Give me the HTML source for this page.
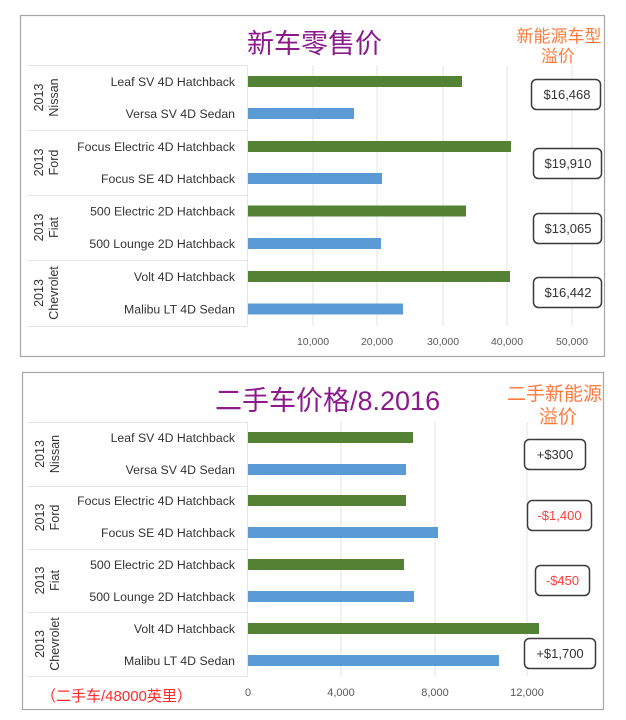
<!DOCTYPE html>
<html><head><meta charset="utf-8"><style>
html,body{margin:0;padding:0;background:#fff;}
svg{display:block;}
.lab{font-family:"Liberation Sans","Noto Sans CJK SC",sans-serif;font-size:12.3px;fill:#333;text-anchor:end;}
.grp{font-family:"Liberation Sans",sans-serif;font-size:12.5px;fill:#333;text-anchor:middle;}
.tick{font-family:"Liberation Sans",sans-serif;font-size:10.5px;fill:#595959;text-anchor:middle;}
.tick2{font-family:"Liberation Sans",sans-serif;font-size:11px;fill:#595959;text-anchor:middle;}
.box{font-family:"Liberation Sans",sans-serif;font-size:13px;fill:#333;text-anchor:middle;}
.boxr{font-family:"Liberation Sans",sans-serif;font-size:13px;fill:#ff3b3b;text-anchor:middle;}
.cn{font-family:"Liberation Sans","Noto Sans CJK SC",sans-serif;}
</style></head><body>
<svg width="626" height="720" viewBox="0 0 626 720" xmlns="http://www.w3.org/2000/svg">
<rect width="626" height="720" fill="#fff"/>
<!-- TOP PANEL -->
<rect x="20.5" y="15.5" width="584" height="341" fill="#fff" stroke="#a6a6a6" stroke-width="1.2"/>
<g stroke="#e3e3e3" stroke-width="1">
<line x1="313" y1="65" x2="313" y2="326"/>
<line x1="377" y1="65" x2="377" y2="326"/>
<line x1="443" y1="65" x2="443" y2="326"/>
<line x1="507" y1="65" x2="507" y2="326"/>
<line x1="572" y1="65" x2="572" y2="326"/>
</g>
<g stroke="#e6e6e6" stroke-width="1">
<line x1="27" y1="65.5" x2="247" y2="65.5"/>
<line x1="27" y1="130.5" x2="247" y2="130.5"/>
<line x1="27" y1="195.5" x2="247" y2="195.5"/>
<line x1="27" y1="260.5" x2="247" y2="260.5"/>
<line x1="27" y1="326.5" x2="247" y2="326.5"/>
<line x1="247.5" y1="65" x2="247.5" y2="326"/>
</g>
<text x="247" y="53" class="cn" font-size="27" fill="#8b1a8b">新车零售价</text>
<text x="559" y="42" class="cn" font-size="17" fill="#ff7a3d" text-anchor="middle">新能源车型</text>
<text x="558" y="62" class="cn" font-size="17" fill="#ff7a3d" text-anchor="middle">溢价</text>
<rect x="248" y="76" width="214" height="11" fill="#548235"/>
<rect x="248" y="108" width="106" height="11" fill="#5b9bd5"/>
<rect x="248" y="141" width="263" height="11" fill="#548235"/>
<rect x="248" y="173" width="134" height="11" fill="#5b9bd5"/>
<rect x="248" y="205.5" width="218" height="11" fill="#548235"/>
<rect x="248" y="238" width="133" height="11" fill="#5b9bd5"/>
<rect x="248" y="271" width="262" height="11" fill="#548235"/>
<rect x="248" y="303.5" width="155" height="11" fill="#5b9bd5"/>
<text x="235" y="86" class="lab">Leaf SV 4D Hatchback</text>
<text x="235" y="118" class="lab">Versa SV 4D Sedan</text>
<text x="235" y="151" class="lab">Focus Electric 4D Hatchback</text>
<text x="235" y="183" class="lab">Focus SE 4D Hatchback</text>
<text x="235" y="215.5" class="lab">500 Electric 2D Hatchback</text>
<text x="235" y="248" class="lab">500 Lounge 2D Hatchback</text>
<text x="235" y="281" class="lab">Volt  4D Hatchback</text>
<text x="235" y="313.5" class="lab">Malibu LT 4D Sedan</text>
<g class="grp">
<text transform="translate(43,97.5) rotate(-90)">2013</text>
<text transform="translate(58,97.5) rotate(-90)">Nissan</text>
<text transform="translate(43,162.5) rotate(-90)">2013</text>
<text transform="translate(58,162.5) rotate(-90)">Ford</text>
<text transform="translate(43,227.5) rotate(-90)">2013</text>
<text transform="translate(58,227.5) rotate(-90)">Fiat</text>
<text transform="translate(43,293) rotate(-90)">2013</text>
<text transform="translate(58,293) rotate(-90)">Chevrolet</text>
</g>
<g class="tick">
<text x="313" y="345">10,000</text>
<text x="377" y="345">20,000</text>
<text x="443" y="345">30,000</text>
<text x="507" y="345">40,000</text>
<text x="572" y="345">50,000</text>
</g>
<g fill="#fff" stroke="#3a3a3a" stroke-width="1.5">
<rect x="531.5" y="79.5" width="69" height="30" rx="5"/>
<rect x="533.5" y="148.5" width="68" height="30" rx="5"/>
<rect x="533.5" y="213.5" width="68" height="30" rx="5"/>
<rect x="533.5" y="277.5" width="68" height="30" rx="5"/>
</g>
<text x="567" y="99" class="box">$16,468</text>
<text x="568" y="168" class="box">$19,910</text>
<text x="568" y="233" class="box">$13,065</text>
<text x="568" y="297" class="box">$16,442</text>

<!-- BOTTOM PANEL -->
<rect x="22.5" y="372.5" width="581" height="337" fill="#fff" stroke="#a6a6a6" stroke-width="1.2"/>
<g stroke="#e3e3e3" stroke-width="1">
<line x1="341" y1="422" x2="341" y2="676"/>
<line x1="435" y1="422" x2="435" y2="676"/>
<line x1="527" y1="422" x2="527" y2="676"/>
</g>
<g stroke="#e6e6e6" stroke-width="1">
<line x1="28" y1="422.5" x2="248" y2="422.5"/>
<line x1="28" y1="486.5" x2="248" y2="486.5"/>
<line x1="28" y1="549.5" x2="248" y2="549.5"/>
<line x1="28" y1="612.5" x2="248" y2="612.5"/>
<line x1="28" y1="676.5" x2="248" y2="676.5"/>
<line x1="247.5" y1="422" x2="247.5" y2="676"/>
</g>
<text x="215" y="410" class="cn" font-size="27" fill="#8b1a8b">二手车价格/8.2016</text>
<text x="554.5" y="400" class="cn" font-size="19" fill="#ff7a3d" text-anchor="middle">二手新能源</text>
<text x="558" y="423" class="cn" font-size="19" fill="#ff7a3d" text-anchor="middle">溢价</text>
<rect x="248" y="432" width="165" height="11" fill="#548235"/>
<rect x="248" y="464" width="158" height="11" fill="#5b9bd5"/>
<rect x="248" y="495" width="158" height="11" fill="#548235"/>
<rect x="248" y="527" width="190" height="11" fill="#5b9bd5"/>
<rect x="248" y="559" width="156" height="11" fill="#548235"/>
<rect x="248" y="591" width="166" height="11" fill="#5b9bd5"/>
<rect x="248" y="623" width="291" height="11" fill="#548235"/>
<rect x="248" y="655" width="251" height="11" fill="#5b9bd5"/>
<text x="235" y="442" class="lab">Leaf SV 4D Hatchback</text>
<text x="235" y="474" class="lab">Versa SV 4D Sedan</text>
<text x="235" y="505" class="lab">Focus Electric 4D Hatchback</text>
<text x="235" y="537" class="lab">Focus SE 4D Hatchback</text>
<text x="235" y="569" class="lab">500 Electric 2D Hatchback</text>
<text x="235" y="601" class="lab">500 Lounge 2D Hatchback</text>
<text x="235" y="633" class="lab">Volt  4D Hatchback</text>
<text x="235" y="665" class="lab">Malibu LT 4D Sedan</text>
<g class="grp">
<text transform="translate(44,454) rotate(-90)">2013</text>
<text transform="translate(59,454) rotate(-90)">Nissan</text>
<text transform="translate(44,517.5) rotate(-90)">2013</text>
<text transform="translate(59,517.5) rotate(-90)">Ford</text>
<text transform="translate(44,580.5) rotate(-90)">2013</text>
<text transform="translate(59,580.5) rotate(-90)">Fiat</text>
<text transform="translate(44,644) rotate(-90)">2013</text>
<text transform="translate(59,644) rotate(-90)">Chevrolet</text>
</g>
<g class="tick2">
<text x="248" y="696">0</text>
<text x="341" y="696">4,000</text>
<text x="435" y="696">8,000</text>
<text x="527" y="696">12,000</text>
</g>
<text x="41" y="701" class="cn" font-size="15" fill="#ff2a2a">（二手车/48000英里）</text>
<g fill="#fff" stroke="#3a3a3a" stroke-width="1.5">
<rect x="524.5" y="439.5" width="61" height="30" rx="5"/>
<rect x="527.5" y="500.5" width="64" height="30" rx="5"/>
<rect x="535.5" y="565.5" width="54" height="30" rx="5"/>
<rect x="524.5" y="638.5" width="71" height="30" rx="5"/>
</g>
<text x="555" y="459" class="box">+$300</text>
<text x="559.5" y="520" class="boxr">-$1,400</text>
<text x="562.5" y="585" class="boxr">-$450</text>
<text x="560" y="658" class="box">+$1,700</text>
</svg>
</body></html>
